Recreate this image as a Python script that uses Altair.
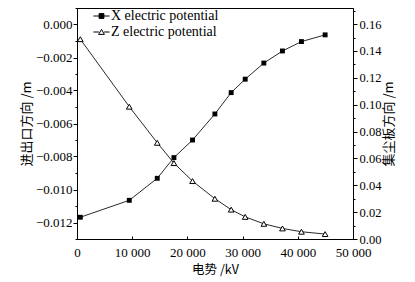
import altair as alt
import pandas as pd

# ---- data ----
voltage = [600, 9470, 14540, 17560, 20930, 24980, 27930, 30470, 33850, 37220, 40660, 44950]
x_potential = [0.0162, 0.0288, 0.0452, 0.0606, 0.0737, 0.0931, 0.109, 0.119, 0.131, 0.140, 0.147, 0.152]
z_potential = [-0.00089, -0.00498, -0.00717, -0.0084, -0.00949, -0.01056, -0.01122,
               -0.01166, -0.01208, -0.01236, -0.01256, -0.0127]
series_names = ["X electric potential", "Z electric potential"]
x_ticks = [0, 10000, 20000, 30000, 40000, 50000]
left_ticks = [round(-0.013 + 0.001 * i, 3) for i in range(15)]
right_ticks = [round(0.01 * i, 2) for i in range(18)]

df_x = pd.DataFrame({"voltage": voltage, "value": x_potential, "series": series_names[0]})
df_z = pd.DataFrame({"voltage": voltage, "value": z_potential, "series": series_names[1]})
df_all = pd.concat([df_x, df_z], ignore_index=True)

SERIF = "Liberation Serif, Times New Roman, serif"
CJK = "Noto Sans CJK SC"

x_enc = alt.X(
    "voltage:Q",
    scale=alt.Scale(domain=[0, 50000], nice=False, zero=False),
    axis=alt.Axis(
        values=x_ticks,
        labelExpr="replace(format(datum.value, ','), ',', ' ')",
        title="电势 /kV",
        tickSize={"expr": "-3"},
        labelPadding=10,
        titlePadding=4,
        titleFontSize=12.5,
        labelFlush=False,
    ),
)

left_axis = alt.Axis(
    values=left_ticks,
    labelExpr="round(datum.value*1000) % 2 == 0 ? format(datum.value, '.3f') : ''",
    tickSize={"condition": {"test": "round(datum.value*1000) % 2 == 0", "value": 4}, "value": 2},
    labelPadding=1,
    title="进出口方向 /m",
    titlePadding=2,
    labelOverlap=False,
)
right_axis = alt.Axis(
    orient="right",
    values=right_ticks,
    labelExpr="round(datum.value*100) % 2 == 0 ? format(datum.value, '.2f') : ''",
    tickSize={"condition": {"test": "round(datum.value*100) % 2 == 0", "value": 4}, "value": 2},
    labelPadding=2,
    labelFontSize=12.5,
    title="集尘板方向 /m",
    titleAngle=270,
    titleBaseline="top",
    titlePadding=2,
    labelOverlap=False,
)

LINE = "#2a2a2a"

# left (Z) group
base_z = alt.Chart(df_z).encode(
    x=x_enc,
    y=alt.Y("value:Q", scale=alt.Scale(domain=[-0.013, 0.001], nice=False, zero=False), axis=left_axis),
)
line_z = base_z.mark_line(color=LINE, strokeWidth=1)
pts_z = base_z.mark_point(shape="triangle-up", size=32, filled=True, fill="white",
                          stroke="black", strokeWidth=1, opacity=1)

sq_path = "M-1,0H-0.3M0.3,0H1M-0.3,-0.3H0.3V0.3H-0.3Z"
tri_path = "M-1,0H-0.33M0.33,0H1M0,-0.33L0.36,0.3H-0.36Z"
legend = alt.Legend(
    title=None, orient="none", legendX=16, legendY=-0.5, padding=0, rowPadding=0,
    labelFont=SERIF, labelFontSize=14, labelColor="black", labelOffset=1,
    symbolOpacity=1, symbolStrokeWidth=1, symbolSize=256,
)
legend_layer = alt.Chart(df_all).mark_point(opacity=0, size=256, filled=True, strokeWidth=1).encode(
    x=alt.X("voltage:Q"),
    y=alt.value(0),
    shape=alt.Shape("series:N", scale=alt.Scale(domain=series_names, range=[sq_path, tri_path]), legend=legend),
    fill=alt.Fill("series:N", scale=alt.Scale(domain=series_names, range=["black", "white"]), legend=legend),
    stroke=alt.Stroke("series:N", scale=alt.Scale(domain=series_names, range=["black", "black"]), legend=legend),
)

left = alt.layer(line_z, pts_z, legend_layer)

# right (X) group
base_x = alt.Chart(df_x).encode(
    x=x_enc,
    y=alt.Y("value:Q", scale=alt.Scale(domain=[0, 0.172], nice=False, zero=False), axis=right_axis),
)
line_x = base_x.mark_line(color=LINE, strokeWidth=1)
pts_x = base_x.mark_point(shape="square", size=24, filled=True, color="black", opacity=1)
right = alt.layer(line_x, pts_x)

chart = alt.layer(left, right).resolve_scale(y="independent").properties(
    width=276, height=231,
    background="white",
    autosize=alt.AutoSizeParams(type="none"),
    padding={"left": 77, "top": 8, "right": 62, "bottom": 43},
).configure_view(
    stroke="black", strokeWidth=1
).configure_axis(
    grid=False, domainColor="black", tickColor="black", labelColor="black", titleColor="black",
    labelFont=SERIF, labelFontSize=13, titleFont=CJK, titleFontSize=13, titleFontWeight="normal",
    domainWidth=1, tickWidth=1,
)

chart.save("out.html", embed_options={"renderer": "svg", "actions": False})
